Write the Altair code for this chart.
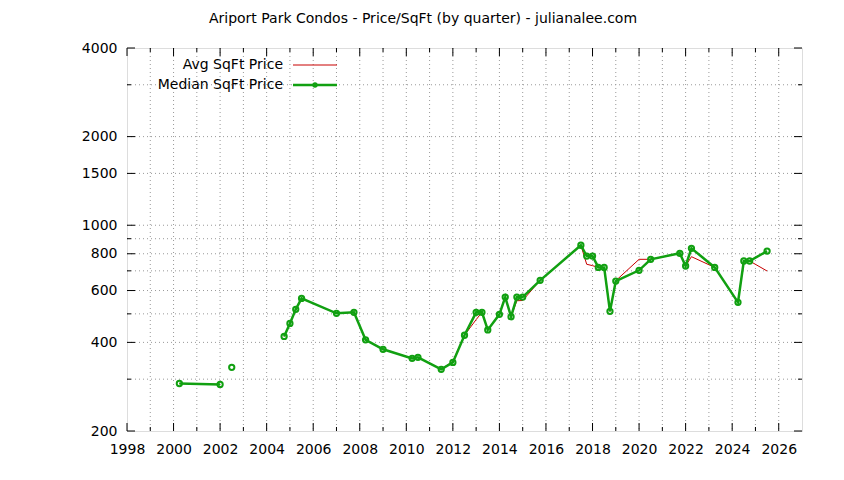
import altair as alt
import pandas as pd

# ---- data ----
years = [2000.25, 2002.0, 2002.5, 2004.75, 2005.0, 2005.25, 2005.5, 2007.0, 2007.75,
         2008.25, 2009.0, 2010.25, 2010.5, 2011.5, 2012.0, 2012.5, 2013.0, 2013.25,
         2013.5, 2014.0, 2014.25, 2014.5, 2014.75, 2015.0, 2015.75, 2017.5, 2017.75,
         2018.0, 2018.25, 2018.5, 2018.75, 2019.0, 2020.0, 2020.5, 2021.75, 2022.0,
         2022.25, 2023.25, 2024.25, 2024.5, 2024.75, 2025.5]
median_price = [290, 288, 329, 419, 464, 518, 564, 502, 506, 408, 379, 353, 356, 324,
                342, 423, 506, 506, 441, 498, 570, 489, 570, 570, 650, 855, 786, 786,
                719, 719, 510, 646, 703, 766, 803, 727, 835, 719, 547, 756, 756, 817]
avg_price = [290, 288, 329, 419, 464, 518, 564, 502, 506, 408, 379, 353, 356, 324,
             345, 423, 478, 506, 441, 498, 570, 489, 554, 555, 650, 855, 737, 729,
             719, 719, 510, 648, 766, 766, 803, 727, 782, 719, 547, 756, 756, 699]
segment = [0, 0, 1] + [2] * 39

x_major = [1998, 2000, 2002, 2004, 2006, 2008, 2010, 2012, 2014, 2016, 2018, 2020,
           2022, 2024, 2026]
x_minor = [1999, 2001, 2003, 2005, 2007, 2009, 2011, 2013, 2015, 2017, 2019, 2021,
           2023, 2025]
y_major = [200, 400, 600, 800, 1000, 1500, 2000, 4000]
y_minor = [300, 500, 700, 900, 3000]

title_text = "Ariport Park Condos - Price/SqFt (by quarter) - julianalee.com"
legend_avg = "Avg SqFt Price"
legend_med = "Median SqFt Price"

GREEN = "#11a011"
RED = "#c80000"
FONT = "DejaVu Sans"
FS = 14
W, H = 675, 383
X_MIN, X_MAX = 1998, 2027
Y_MIN, Y_MAX = 200, 4000

df = pd.DataFrame({"year": years, "median": median_price, "avg": avg_price,
                   "seg": segment})

xscale = alt.Scale(domain=[X_MIN, X_MAX], nice=False, zero=False)
yscale = alt.Scale(type="log", domain=[Y_MIN, Y_MAX], nice=False)

label_common = dict(grid=False, ticks=False, domain=False, labelFont=FONT,
                    labelFontSize=FS, labelColor="black", labelFlush=False,
                    labelOverlap=False, title="", format="d")
x_axis = alt.Axis(values=x_major, labelPadding=11, **label_common)
y_axis = alt.Axis(values=y_major, labelPadding=10, **label_common)

# ---- dotted grid (interior lines only, border drawn by the view) ----
x_grid_vals = sorted(v for v in x_major + x_minor if X_MIN < v < X_MAX)
y_grid_vals = sorted(v for v in y_major + y_minor if Y_MIN < v < Y_MAX)
x_grid = alt.Chart(pd.DataFrame({"g": x_grid_vals})).mark_rule(
    color="#999999", strokeWidth=1, strokeDash=[1, 3]).encode(
    x=alt.X("g:Q", scale=xscale, axis=x_axis), y=alt.value(0), y2=alt.value(H))
y_grid = alt.Chart(pd.DataFrame({"g": y_grid_vals})).mark_rule(
    color="#999999", strokeWidth=1, strokeDash=[1, 3]).encode(
    y=alt.Y("g:Q", scale=yscale, axis=y_axis), x=alt.value(0), x2=alt.value(W))

base = alt.Chart(df)
avg_line = base.mark_line(color=RED, strokeWidth=1).encode(
    x=alt.X("year:Q", scale=xscale, axis=x_axis),
    y=alt.Y("avg:Q", scale=yscale, axis=y_axis),
    detail="seg:N",
)
med_line = base.mark_line(color=GREEN, strokeWidth=2.5).encode(
    x=alt.X("year:Q", scale=xscale, axis=x_axis),
    y=alt.Y("median:Q", scale=yscale, axis=y_axis),
    detail="seg:N",
)
med_pts = base.mark_point(color=GREEN, filled=False, strokeWidth=2, size=28, opacity=1).encode(
    x=alt.X("year:Q", scale=xscale, axis=x_axis),
    y=alt.Y("median:Q", scale=yscale, axis=y_axis),
)

# ---- inward border ticks (gnuplot style) ----
def xticks(vals, length):
    d = alt.Chart(pd.DataFrame({"v": vals}))
    bottom = d.mark_rule(color="black", strokeWidth=1).encode(
        x=alt.X("v:Q", scale=xscale, axis=x_axis), y=alt.value(H), y2=alt.value(H - length))
    top = d.mark_rule(color="black", strokeWidth=1).encode(
        x=alt.X("v:Q", scale=xscale, axis=x_axis), y=alt.value(0), y2=alt.value(length))
    return [bottom, top]

def yticks(vals, length):
    d = alt.Chart(pd.DataFrame({"v": vals}))
    left = d.mark_rule(color="black", strokeWidth=1).encode(
        y=alt.Y("v:Q", scale=yscale, axis=y_axis), x=alt.value(0), x2=alt.value(length))
    right = d.mark_rule(color="black", strokeWidth=1).encode(
        y=alt.Y("v:Q", scale=yscale, axis=y_axis), x=alt.value(W), x2=alt.value(W - length))
    return [left, right]

tick_layers = xticks(x_major, 8) + xticks(x_minor, 4) + yticks(y_major, 8) + yticks(y_minor, 4)

# ---- chart title (centred on the whole canvas, like the reference) ----
title_mark = alt.Chart(pd.DataFrame({"t": [title_text]})).mark_text(
    align="center", baseline="middle", font=FONT, fontSize=FS, color="black").encode(
    text="t:N", x=alt.value(296), y=alt.value(-29))

# ---- key (gnuplot style: text then sample) ----
leg_avg_text = alt.Chart(pd.DataFrame({"label": [legend_avg]})).mark_text(
    align="right", baseline="middle", font=FONT, fontSize=FS, color="black").encode(
    text="label:N", x=alt.value(156), y=alt.value(17))
leg_med_text = alt.Chart(pd.DataFrame({"label": [legend_med]})).mark_text(
    align="right", baseline="middle", font=FONT, fontSize=FS, color="black").encode(
    text="label:N", x=alt.value(156), y=alt.value(37))
leg_avg_line = alt.Chart(pd.DataFrame({"label": [legend_avg]})).mark_rule(
    color=RED, strokeWidth=1).encode(x=alt.value(166), x2=alt.value(210), y=alt.value(17))
leg_med_line = alt.Chart(pd.DataFrame({"label": [legend_med]})).mark_rule(
    color=GREEN, strokeWidth=2.5).encode(x=alt.value(166), x2=alt.value(210), y=alt.value(37))
leg_med_pt = alt.Chart(pd.DataFrame({"label": [legend_med]})).mark_point(
    color=GREEN, filled=True, strokeWidth=2, size=28, opacity=1).encode(
    x=alt.value(188), y=alt.value(37))

chart = alt.layer(
    x_grid, y_grid, avg_line, med_line, med_pts, *tick_layers, title_mark,
    leg_avg_text, leg_med_text, leg_avg_line, leg_med_line, leg_med_pt,
).properties(
    width=W, height=H,
    padding={"left": 119, "top": 40, "right": 34, "bottom": 40},
    autosize=alt.AutoSizeParams(type="none"),
).configure_view(stroke="black", strokeWidth=1).configure(background="white")

chart.save("out.html", embed_options={"renderer": "svg", "actions": False})
